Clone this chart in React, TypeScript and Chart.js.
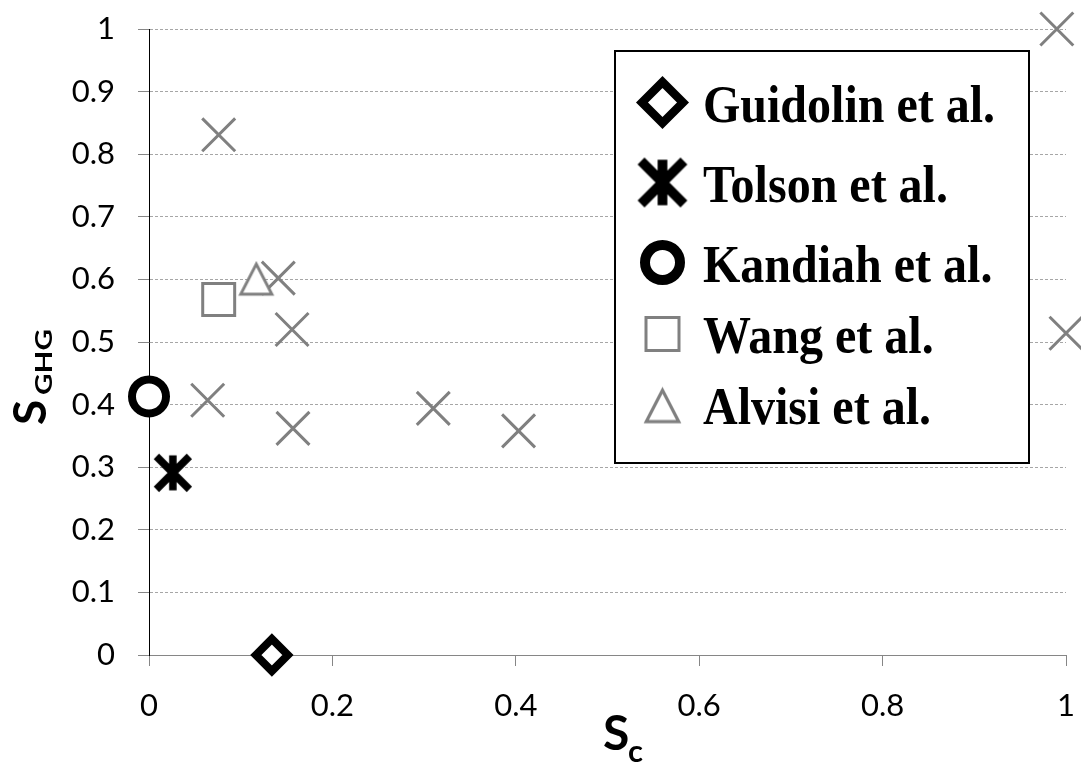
import React, { useEffect, useRef } from 'react';
import { Chart, registerables } from 'chart.js';

Chart.register(...registerables);

// ---- data ----
const seriesNames = ['Guidolin et al.', 'Tolson et al.', 'Kandiah et al.', 'Wang et al.', 'Alvisi et al.', 'Other studies'];
const guidolinX = [0.134];
const guidolinY = [0.0];
const tolsonX = [0.026];
const tolsonY = [0.291];
const kandiahX = [0.0];
const kandiahY = [0.413];
const wangX = [0.076];
const wangY = [0.568];
const alvisiX = [0.117];
const alvisiY = [0.602];
const otherX = [0.076, 0.141, 0.156, 0.064, 0.157, 0.31, 0.403, 0.99, 1.0];
const otherY = [0.831, 0.602, 0.52, 0.407, 0.362, 0.394, 0.358, 1.0, 0.514];
const xTickLabels = ['0', '0.2', '0.4', '0.6', '0.8', '1'];
const yTickLabels = ['0', '0.1', '0.2', '0.3', '0.4', '0.5', '0.6', '0.7', '0.8', '0.9', '1'];

const toPoints = (xs: number[], ys: number[]) => xs.map((x, i) => ({ x, y: ys[i] }));

// ---- styles ----
const W = 1081;
const H = 764;
const GRAY = '#808080';
const AXIS_GRAY = '#868686';
const GRID_GRAY = '#a6a6a6';
const TICK_FONT = { family: 'Lato', size: 31 };

function makeAsterisk(s: number): HTMLCanvasElement {
  const w = Math.ceil(46 * s);
  const c = document.createElement('canvas');
  c.width = w;
  c.height = w;
  const g = c.getContext('2d')!;
  g.translate(w / 2, w / 2);
  g.scale(s, s);
  g.strokeStyle = '#000';
  g.lineWidth = 7.5;
  g.lineCap = 'butt';
  g.beginPath();
  g.moveTo(-16.5, -16.5);
  g.lineTo(16.5, 16.5);
  g.moveTo(16.5, -16.5);
  g.lineTo(-16.5, 16.5);
  g.moveTo(0, -17.5);
  g.lineTo(0, 17.5);
  g.stroke();
  return c;
}

function makeTriangle(s: number): HTMLCanvasElement {
  const w = Math.ceil(42 * s);
  const c = document.createElement('canvas');
  c.width = w;
  c.height = w;
  const g = c.getContext('2d')!;
  g.translate(w / 2, w / 2 + 0.9 * s);
  g.scale(s, s);
  g.strokeStyle = GRAY;
  g.fillStyle = '#fff';
  g.lineWidth = 3;
  g.lineJoin = 'miter';
  g.beginPath();
  g.moveTo(0, -15);
  g.lineTo(15.5, 15);
  g.lineTo(-15.5, 15);
  g.closePath();
  g.fill();
  g.stroke();
  return c;
}

const zeroPadding = (s: any) => {
  s.paddingTop = 0;
  s.paddingBottom = 0;
  s.paddingLeft = 0;
  s.paddingRight = 0;
};

export default function App() {
  const ref = useRef<HTMLCanvasElement | null>(null);

  useEffect(() => {
    if (!ref.current) return;
    const asterisk = makeAsterisk(1);
    const triangle = makeTriangle(1);
    const legendAsterisk = makeAsterisk(1.3);
    const legendTriangle = makeTriangle(1.05);

    const overlay = {
      id: 'overlay',
      afterDraw(chart: any) {
        const ctx: CanvasRenderingContext2D = chart.ctx;
        ctx.save();
        ctx.fillStyle = '#000';
        ctx.textBaseline = 'alphabetic';
        ctx.textAlign = 'left';

        // y axis title S_GHG (rotated)
        ctx.save();
        ctx.translate(46, 425);
        ctx.rotate(-Math.PI / 2);
        ctx.font = 'bold 46px Lato';
        ctx.fillText('S', 0, 0);
        ctx.font = 'bold 22px Lato';
        ctx.translate(30, 6);
        ctx.scale(1.35, 1);
        ctx.fillText('GHG', 0, 0);
        ctx.restore();

        // x axis title S_c
        ctx.font = 'bold 48px Lato';
        ctx.fillText('S', 603, 750);
        ctx.font = 'bold 31px Lato';
        ctx.fillText('c', 628, 762);

        // legend
        const bx = 615, by = 51, bw = 414, bh = 412;
        ctx.fillStyle = '#fff';
        ctx.fillRect(bx, by, bw, bh);
        ctx.lineWidth = 2;
        ctx.strokeStyle = '#000';
        ctx.strokeRect(bx, by, bw, bh);

        const rowsY = [102.5, 182.5, 262.5, 334, 405];
        const mx = 662.5;
        const tx = 703;
        const names = chart.data.datasets.slice(0, 5).map((d: any) => d.label);

        // diamond
        let cy = rowsY[0];
        ctx.save();
        ctx.lineWidth = 8.5;
        ctx.strokeStyle = '#000';
        ctx.fillStyle = '#fff';
        ctx.beginPath();
        ctx.moveTo(mx - 20.5, cy);
        ctx.lineTo(mx, cy - 20.5);
        ctx.lineTo(mx + 20.5, cy);
        ctx.lineTo(mx, cy + 20.5);
        ctx.closePath();
        ctx.fill();
        ctx.stroke();
        // asterisk
        cy = rowsY[1];
        ctx.drawImage(legendAsterisk, mx - legendAsterisk.width / 2, cy - legendAsterisk.height / 2);
        // circle
        cy = rowsY[2];
        ctx.lineWidth = 10;
        ctx.beginPath();
        ctx.arc(mx, cy, 17.5, 0, Math.PI * 2);
        ctx.fill();
        ctx.stroke();
        // square
        cy = rowsY[3];
        ctx.lineWidth = 3;
        ctx.strokeStyle = GRAY;
        ctx.beginPath();
        ctx.rect(mx - 16.5, cy - 16.5, 33, 33);
        ctx.fill();
        ctx.stroke();
        // triangle
        cy = rowsY[4];
        ctx.drawImage(legendTriangle, mx - legendTriangle.width / 2, cy - legendTriangle.height / 2);
        ctx.restore();

        ctx.fillStyle = '#000';
        ctx.font = 'bold 48px "Liberation Serif"';
        names.forEach((n: string, i: number) => {
          ctx.save();
          ctx.translate(tx, rowsY[i] + 19);
          ctx.scale(1, 1.1);
          ctx.fillText(n, 0, 0);
          ctx.restore();
        });
        ctx.restore();
      },
    };

    const chart = new Chart(ref.current, {
      type: 'scatter',
      data: {
        datasets: [
          {
            label: seriesNames[0],
            data: toPoints(guidolinX, guidolinY),
            pointStyle: 'rectRot',
            pointRadius: 16,
            pointBorderWidth: 8,
            pointBorderColor: '#000',
            pointBackgroundColor: '#fff',
            clip: false,
          },
          {
            label: seriesNames[1],
            data: toPoints(tolsonX, tolsonY),
            pointStyle: asterisk,
            pointRadius: 20,
            clip: false,
          },
          {
            label: seriesNames[2],
            data: toPoints(kandiahX, kandiahY),
            pointStyle: 'circle',
            pointRadius: 17,
            pointBorderWidth: 8,
            pointBorderColor: '#000',
            pointBackgroundColor: '#fff',
            clip: false,
          },
          {
            label: seriesNames[3],
            data: toPoints(wangX, wangY),
            pointStyle: 'rect',
            pointRadius: 22.6,
            pointBorderWidth: 3,
            pointBorderColor: GRAY,
            pointBackgroundColor: '#fff',
            clip: false,
          },
          {
            label: seriesNames[4],
            data: toPoints(alvisiX, alvisiY),
            pointStyle: triangle,
            pointRadius: 19,
            clip: false,
          },
          {
            label: seriesNames[5],
            data: toPoints(otherX, otherY),
            pointStyle: 'crossRot',
            pointRadius: 23.3,
            pointBorderWidth: 3,
            pointBorderColor: GRAY,
            pointBackgroundColor: 'transparent',
            clip: false,
          },
        ] as any,
      },
      options: {
        animation: false,
        responsive: false,
        maintainAspectRatio: false,
        events: [],
        layout: { autoPadding: false, padding: { top: 29, right: 15, left: 0, bottom: 0 } },
        plugins: {
          legend: { display: false },
          tooltip: { enabled: false },
          title: { display: false },
        },
        scales: {
          x: {
            type: 'linear',
            position: 'bottom',
            min: 0,
            max: 1,
            ticks: {
              stepSize: 0.2,
              font: TICK_FONT,
              color: '#000',
              padding: 21,
              maxRotation: 0,
              callback: (_v: any, i: number) => xTickLabels[i],
            },
            grid: {
              drawOnChartArea: false,
              drawTicks: true,
              tickLength: 11,
              tickColor: AXIS_GRAY,
              tickWidth: 1,
            },
            border: { display: true, color: AXIS_GRAY, width: 1 },
            afterFit: (s: any) => {
              s.height = 109;
              zeroPadding(s);
            },
          },
          y: {
            type: 'linear',
            min: 0,
            max: 1,
            ticks: {
              stepSize: 0.1,
              font: TICK_FONT,
              color: '#000',
              padding: 23,
              callback: (_v: any, i: number) => yTickLabels[i],
            },
            grid: {
              color: (c: any) => (c.tick && c.tick.value === 0 ? 'rgba(0,0,0,0)' : GRID_GRAY),
              lineWidth: 1,
              drawTicks: true,
              tickLength: 11,
              tickColor: AXIS_GRAY,
              tickWidth: 1,
              tickBorderDash: [],
            },
            border: { display: true, color: '#000', width: 1, dash: [3, 2] },
            afterFit: (s: any) => {
              s.width = 149;
              zeroPadding(s);
            },
          },
        },
      } as any,
      plugins: [overlay],
    });

    return () => chart.destroy();
  }, []);

  return (
    <div style={{ position: 'fixed', left: 0, top: 0, width: W, height: H, background: '#fff' }}>
      <canvas ref={ref} width={W} height={H} style={{ display: 'block', width: W, height: H }} />
    </div>
  );
}
